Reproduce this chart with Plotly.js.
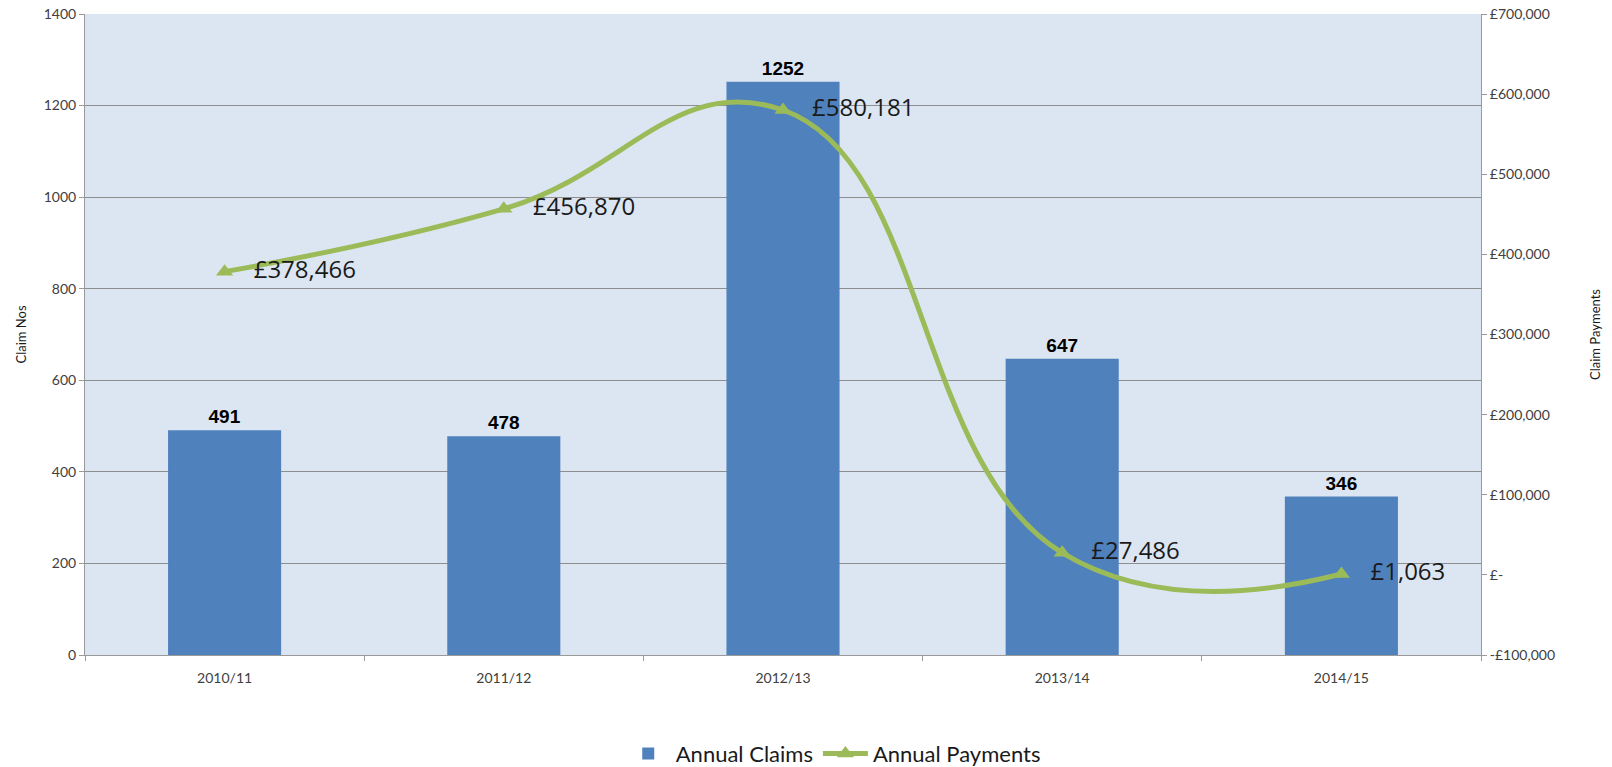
<!DOCTYPE html>
<html>
<head>
<meta charset="utf-8">
<script src="https://cdn.plot.ly/plotly-3.0.1.min.js"></script>
<style>html,body{margin:0;padding:0;background:#fff;}#chart{width:1612px;height:767px;}</style>
</head>
<body>
<div id="chart"></div>
<script>
const categories = ["2010/11", "2011/12", "2012/13", "2013/14", "2014/15"];
const annualClaims = [491, 478, 1252, 647, 346];
const annualPayments = [378466, 456870, 580181, 27486, 1063];
const paymentLabels = ["£378,466", "£456,870", "£580,181", "£27,486", "£1,063"];
const leftTickVals = [0, 200, 400, 600, 800, 1000, 1200, 1400];
const rightTickVals = [-100000, 0, 100000, 200000, 300000, 400000, 500000, 600000, 700000];
const rightTickText = ["-£100,000", "£-", "£100,000", "£200,000", "£300,000", "£400,000", "£500,000", "£600,000", "£700,000"];

const tickFont = {family: "Lato, 'Open Sans', sans-serif", size: 14, color: "#404040"};

const traces = [
  {
    type: "bar",
    name: "Annual Claims",
    x: categories,
    y: annualClaims,
    marker: {color: "#4f81bd"},
    text: annualClaims.map(String),
    textposition: "outside",
    textfont: {family: "'Liberation Sans', Arial, sans-serif", size: 19, color: "#000", weight: "bold"},
    cliponaxis: false,
    yaxis: "y"
  },
  {
    type: "scatter",
    mode: "lines+markers+text",
    name: "Annual Payments",
    x: categories,
    y: annualPayments,
    line: {color: "#9bbb59", width: 5, shape: "spline", smoothing: 1.3},
    marker: {symbol: "triangle-up", size: 15, color: "#9bbb59"},
    text: paymentLabels,
    texttemplate: "\u00a0\u00a0\u00a0%{text}",
    textposition: "middle right",
    textfont: {family: "'Open Sans', sans-serif", size: 24, color: "#1a1a1a"},
    cliponaxis: false,
    yaxis: "y2"
  }
];

const layout = {
  width: 1612,
  height: 767,
  margin: {l: 85, r: 131, t: 14, b: 112, autoexpand: false},
  paper_bgcolor: "#ffffff",
  plot_bgcolor: "#dce6f2",
  bargap: 0.595,
  showlegend: true,
  legend: {
    orientation: "h",
    x: 0.536, xanchor: "center",
    y: -0.154, yanchor: "middle",
    font: {family: "Lato, 'Open Sans', sans-serif", size: 22, color: "#1a1a1a"},
    itemwidth: 45
  },
  xaxis: {
    type: "category",
    tickfont: tickFont,
    showgrid: false,
    showline: true,
    linecolor: "#9a9a9a",
    linewidth: 1,
    ticks: "outside",
    tickson: "boundaries",
    ticklen: 5,
    tickcolor: "#9a9a9a",
    ticklabelstandoff: 10,
    zeroline: false
  },
  yaxis: {
    range: [0, 1400],
    tickvals: leftTickVals,
    tickfont: tickFont,
    showgrid: true,
    gridcolor: "#8e8e8e",
    gridwidth: 1,
    showline: true,
    linecolor: "#9a9a9a",
    ticks: "outside",
    ticklen: 5,
    tickcolor: "#9a9a9a",
    zeroline: false,
    title: {text: "Claim Nos", font: {family: "Lato, 'Open Sans', sans-serif", size: 13, color: "#1a1a1a"}, standoff: 14}
  },
  yaxis2: {
    overlaying: "y",
    side: "right",
    range: [-100000, 700000],
    tickvals: rightTickVals,
    ticktext: rightTickText,
    tickfont: tickFont,
    showgrid: false,
    showline: true,
    linecolor: "#9a9a9a",
    ticks: "outside",
    ticklen: 5,
    tickcolor: "#9a9a9a",
    zeroline: false,
    title: {text: "Claim Payments", font: {family: "Lato, 'Open Sans', sans-serif", size: 13, color: "#1a1a1a"}, standoff: 36}
  }
};

Plotly.newPlot("chart", traces, layout, {displayModeBar: false, staticPlot: true});
</script>
</body>
</html>
